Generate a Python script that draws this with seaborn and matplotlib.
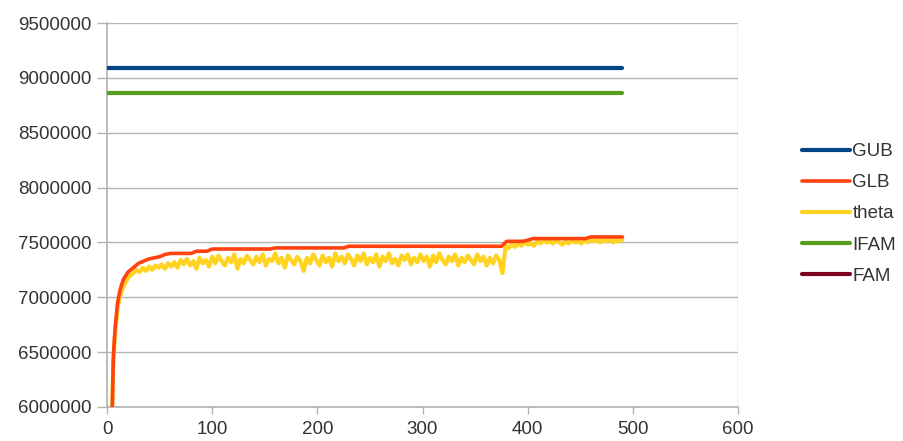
import matplotlib
matplotlib.use("Agg")
import matplotlib.pyplot as plt
from matplotlib.ticker import FuncFormatter
import seaborn as sns
import pandas as pd

# iteration index for GLB (dense at the start, every 5 afterwards)
iters = [5, 6, 7, 8, 9, 10, 12, 14, 16, 18, 20] + list(range(25, 491, 5))
# iteration index for theta (dense at the start, every 3 afterwards)
theta_iters = [5, 6, 7, 8, 9, 10, 12, 14, 16, 18, 20] + list(range(25, 491, 3))

# values in millions
glb = [6.00, 6.45, 6.62, 6.75, 6.85, 6.95, 7.05, 7.12, 7.17, 7.20, 7.23,
       7.27, 7.31, 7.33, 7.35, 7.36, 7.37, 7.39, 7.40, 7.40, 7.40, 7.40, 7.40, 7.42, 7.42, 7.42, 7.44,
       7.44, 7.44, 7.44, 7.44, 7.44, 7.44, 7.44, 7.44, 7.44, 7.44, 7.44,
       7.45, 7.45, 7.45, 7.45, 7.45, 7.45, 7.45, 7.45, 7.45, 7.45, 7.45, 7.45, 7.45, 7.45,
       7.465, 7.465, 7.465, 7.465, 7.465, 7.465, 7.465, 7.465, 7.465, 7.465,
       7.465, 7.465, 7.465, 7.465, 7.465, 7.465, 7.465, 7.465, 7.465, 7.465,
       7.465, 7.465, 7.465, 7.465, 7.465, 7.465, 7.465, 7.465, 7.465, 7.465,
       7.51, 7.51, 7.51, 7.51, 7.52,
       7.535, 7.535, 7.535, 7.535, 7.535, 7.535, 7.535, 7.535, 7.535, 7.535, 7.535,
       7.55, 7.55, 7.55, 7.55, 7.55, 7.55, 7.55]

theta = [5.99, 6.40, 6.58, 6.70, 6.80, 6.90, 7.00, 7.06, 7.11, 7.14, 7.18,
         7.22, 7.25, 7.23, 7.27, 7.24, 7.28, 7.25, 7.29, 7.27, 7.30, 7.26, 7.31, 7.28,
         7.32, 7.27, 7.34, 7.30, 7.35, 7.29, 7.33, 7.26, 7.36, 7.31, 7.34, 7.28, 7.37,
         7.31, 7.38, 7.33, 7.29, 7.36, 7.32, 7.39, 7.26, 7.35, 7.31, 7.38, 7.34, 7.30,
         7.37, 7.32, 7.39, 7.29, 7.35, 7.33, 7.40, 7.31, 7.36, 7.27, 7.38, 7.34, 7.30,
         7.37, 7.33, 7.24, 7.36, 7.31, 7.39, 7.34, 7.29, 7.38, 7.32, 7.36, 7.28, 7.40,
         7.33, 7.37, 7.31, 7.39, 7.35, 7.29, 7.38, 7.33, 7.40, 7.30, 7.36, 7.32, 7.39,
         7.28, 7.37, 7.33, 7.40, 7.31, 7.35, 7.29, 7.38, 7.34, 7.39, 7.30, 7.36, 7.32,
         7.39, 7.33, 7.37, 7.28, 7.38, 7.32, 7.40, 7.34, 7.30, 7.37, 7.33, 7.39, 7.29,
         7.36, 7.32, 7.38, 7.34, 7.30, 7.39, 7.33, 7.37, 7.29, 7.36, 7.31, 7.38, 7.34,
         7.22, 7.47, 7.45, 7.48, 7.46, 7.49, 7.47, 7.50, 7.48, 7.49, 7.47, 7.51, 7.49,
         7.52, 7.50, 7.51, 7.49, 7.52, 7.50, 7.48, 7.51, 7.49, 7.52, 7.50, 7.51, 7.49,
         7.52, 7.50, 7.53, 7.51, 7.52, 7.50, 7.54, 7.51, 7.53, 7.50, 7.52, 7.51, 7.53]

bound_x = [1, 490]
gub = [9.09, 9.09]
ifam = [8.86, 8.86]

colors = {"GUB": "#004586", "GLB": "#ff420e", "theta": "#ffd320",
          "IFAM": "#579d1c", "FAM": "#7e0021"}

sns.set_theme(style="whitegrid")
plt.rcParams["font.family"] = ["Liberation Sans", "DejaVu Sans"]

df_glb = pd.DataFrame({"x": iters, "GLB": [v * 1e6 for v in glb]})
df_theta = pd.DataFrame({"x": theta_iters, "theta": [v * 1e6 for v in theta]})
df_bounds = pd.DataFrame({"x": bound_x,
                          "GUB": [v * 1e6 for v in gub],
                          "IFAM": [v * 1e6 for v in ifam]})

fig = plt.figure(figsize=(9.04, 4.41), dpi=100)
ax = fig.add_axes([0.1184, 0.0771, 0.698, 0.8707])

sns.lineplot(data=df_bounds, x="x", y="GUB", ax=ax, color=colors["GUB"],
             lw=3, label="GUB", estimator=None, sort=False, zorder=3)
sns.lineplot(data=df_theta, x="x", y="theta", ax=ax, color=colors["theta"],
             lw=3, label="theta", estimator=None, sort=False, zorder=3)
sns.lineplot(data=df_glb, x="x", y="GLB", ax=ax, color=colors["GLB"],
             lw=2.6, label="GLB", estimator=None, sort=False, zorder=4)
sns.lineplot(data=df_bounds, x="x", y="IFAM", ax=ax, color=colors["IFAM"],
             lw=3, label="IFAM", estimator=None, sort=False, zorder=3)
ax.plot([], [], color=colors["FAM"], lw=3, label="FAM")

ax.set_xlim(0, 600)
ax.set_ylim(6000000, 9500000)
ax.set_xticks(range(0, 601, 100))
ax.set_yticks(range(6000000, 9500001, 500000))
ax.yaxis.set_major_formatter(FuncFormatter(lambda v, p: f"{int(v)}"))
ax.set_xlabel("")
ax.set_ylabel("")

ax.grid(axis="y", color="#b3b3b3", lw=1)
ax.grid(axis="x", visible=False)
for s in ax.spines.values():
    s.set_visible(False)
ax.spines["left"].set_visible(True)
ax.spines["left"].set_color("#b3b3b3")
ax.spines["bottom"].set_visible(True)
ax.spines["bottom"].set_color("#b3b3b3")
ax.axvline(600, color="#b3b3b3", lw=1)
ax.tick_params(axis="y", length=7, width=1, color="#b3b3b3", pad=4,
               labelsize=13.5, labelcolor="#333333", left=True)
ax.tick_params(axis="x", length=5, width=1, color="#b3b3b3", pad=5,
               labelsize=13.5, labelcolor="#333333", bottom=True)

handles, labels = ax.get_legend_handles_labels()
order = ["GUB", "GLB", "theta", "IFAM", "FAM"]
hmap = dict(zip(labels, handles))
ax.legend_.remove()
fig.legend([hmap[k] for k in order], order, loc="center left",
           bbox_to_anchor=(0.887, 0.515), frameon=False, fontsize=13.5,
           handlelength=2.55, handletextpad=0.15, labelspacing=0.75,
           borderpad=0, borderaxespad=0, labelcolor="#333333")

fig.savefig("out.png", dpi=100)
